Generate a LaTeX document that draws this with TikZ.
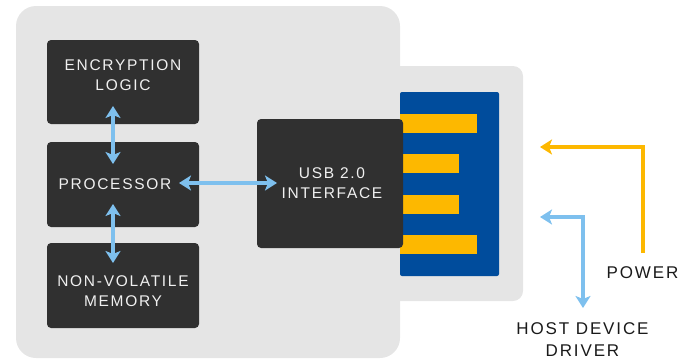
\documentclass[tikz,border=0pt]{standalone}
\usepackage{fontspec}
\setmainfont{Liberation Sans}[LetterSpace=11]
\usetikzlibrary{arrows.meta}
\definecolor{bodygrey}{HTML}{E5E5E5}
\definecolor{boxdark}{HTML}{303030}
\definecolor{usbblue}{HTML}{004C9C}
\definecolor{pinyellow}{HTML}{FDB800}
\definecolor{arrowblue}{HTML}{7EC0EE}
\definecolor{textdark}{HTML}{1A1A1A}
\tikzset{
  darkbox/.style={fill=boxdark, rounded corners=4pt, draw=none, inner sep=0pt},
  intext/.style={text=white!94!black, font=\fontsize{15.5}{20.5}\selectfont, align=center, inner sep=0pt},
  outtext/.style={text=textdark, font=\fontsize{17}{22}\selectfont, align=center, inner sep=0pt},
  tipp/.tip={Stealth[length=12pt,width=15pt,inset=3pt]},
  bluearrow/.style={draw=arrowblue, line width=3.5pt, {tipp}-{tipp}},
  yellowarrow/.style={draw=pinyellow, line width=3.5pt, -{tipp}},
}
\begin{document}
\begin{tikzpicture}[x=1pt,y=-1pt]
\useasboundingbox (0,0) rectangle (694,362);
% body and connector housing
\fill[bodygrey, rounded corners=20pt] (16,6) rectangle (400,358);
\fill[bodygrey, rounded corners=10pt] (380,66) rectangle (523,301);
% blue plug and pins
\fill[usbblue, rounded corners=2pt] (400,92) rectangle (499,276);
\fill[pinyellow] (400,114) rectangle (477,133);
\fill[pinyellow] (400,154) rectangle (459,173);
\fill[pinyellow] (400,195) rectangle (459,214);
\fill[pinyellow] (400,235) rectangle (477,254);
% boxes
\node[darkbox, minimum width=152pt, minimum height=84pt] (enc) at (123,82) {};
\node[darkbox, minimum width=152pt, minimum height=85pt] (proc) at (123,184.5) {};
\node[darkbox, minimum width=152pt, minimum height=85pt] (mem) at (123,285.5) {};
\node[darkbox, minimum width=146pt, minimum height=129pt] (usb) at (330,183.5) {};
% texts
\node[intext] (enct) at (123,75) {ENCRYPTION\\LOGIC};
\node[intext] (proct) at (115,184.5) {PROCESSOR};
\node[intext] (memt) at (123,291) {NON-VOLATILE\\MEMORY};
\node[intext] (usbt) at (332,183) {USB 2.0\\INTERFACE};
\node[outtext] (power) at (642.5,273) {POWER};
\node[outtext] (host) at (582.5,340) {HOST DEVICE\\DRIVER};
% arrows
\coordinate (a1) at (113,106);
\coordinate (a2) at (113,164);
\coordinate (b1) at (113,204);
\coordinate (b2) at (113,263);
\coordinate (c1) at (179,183);
\coordinate (c2) at (277,183);
\draw[bluearrow] (a1) -- (a2);
\draw[bluearrow] (b1) -- (b2);
\draw[bluearrow] (c1) -- (c2);
\coordinate (pstart) at (643,253);
\coordinate (pend) at (540,147);
\draw[yellowarrow] (pstart) |- (pend);
\coordinate (hin) at (540,217);
\coordinate (hout) at (583,308);
\draw[bluearrow] (hin) -| (hout);
\end{tikzpicture}
\end{document}
